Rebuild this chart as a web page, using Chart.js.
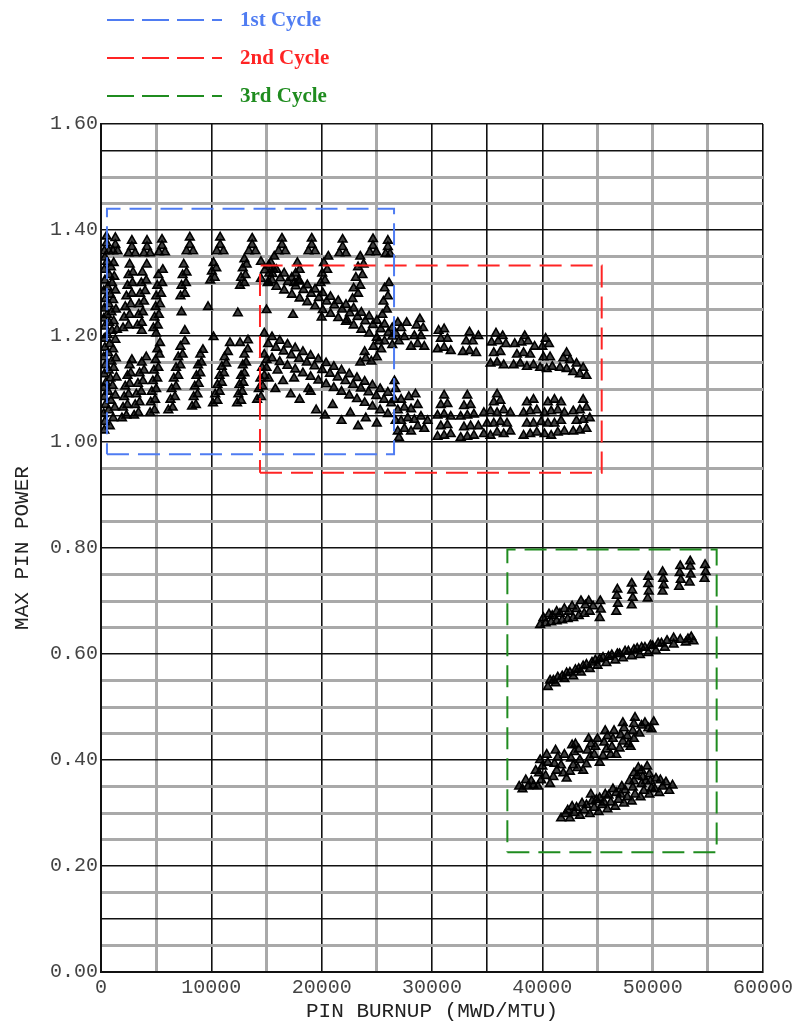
<!DOCTYPE html>
<html>
<head>
<meta charset="utf-8">
<script src="https://cdn.jsdelivr.net/npm/chart.js@4.4.1/dist/chart.umd.min.js"></script>
<style>
  html, body { margin: 0; padding: 0; background: #fff; }
  canvas { display: block; }
</style>
</head>
<body>
<canvas id="pinChart" width="804" height="1030"></canvas>
<script>
// legend / box names and colours
const cycleNames = ["1st Cycle", "2nd Cycle", "3rd Cycle"];
const cycleColors = ["#4f7cf2", "#ff2424", "#1f8c1f"];

// box extents: [burnup from, burnup to, power from, power to]
const cycle1Box = [540, 26560, 0.977, 1.44];
const cycle2Box = [14410, 45380, 0.942, 1.333];
const cycle3Box = [36830, 55800, 0.226, 0.797];

// axis ticks
const xLabelValues = [0, 10000, 20000, 30000, 40000, 50000, 60000];
const yLabelValues = [0, 0.2, 0.4, 0.6, 0.8, 1.0, 1.2, 1.4, 1.6];
const darkXLines = [0, 10000, 20000, 30000, 35000, 40000, 60000];
const darkYLines = [0, 0.1, 0.2, 0.4, 0.6, 0.8, 0.9, 1.0, 1.05, 1.2, 1.4, 1.55, 1.6];

// ---- points: [burnup, max pin power] ----
const c1Peaks = [
  [300,1.36],[700,1.36],[500,1.375],[500,1.388],
  [1100,1.36],[1500,1.36],[1300,1.372],[1300,1.385],
  [2500,1.356],[3100,1.356],[2800,1.368],[2800,1.38],
  [3900,1.356],[4450,1.356],[4170,1.368],[4170,1.38],
  [5250,1.358],[5800,1.358],[5530,1.37],[5530,1.382],
  [7750,1.36],[8350,1.36],[8050,1.372],[8050,1.386],
  [10500,1.36],[11100,1.36],[10800,1.372],[10800,1.386],
  [13400,1.36],[14000,1.36],[13700,1.372],[13700,1.384],
  [16100,1.36],[16700,1.36],[16400,1.372],[16400,1.384],
  [18800,1.36],[19400,1.36],[19100,1.372],[19100,1.384],
  [21600,1.356],[22200,1.356],[21900,1.368],[21900,1.382],
  [24350,1.358],[24950,1.358],[24650,1.37],[24650,1.383],
  [25800,1.355],[26200,1.355],[26000,1.368],[26000,1.38]
];

const c1Left = [
  [300,1.022],[800,1.03],[350,1.038],[1100,1.045],[250,1.053],[700,1.06],[1250,1.065],
  [400,1.07],[900,1.078],[300,1.085],[1300,1.088],[650,1.095],[250,1.102],[1050,1.106],
  [450,1.112],[850,1.12],[1400,1.122],[300,1.128],[700,1.135],[1150,1.14],[400,1.145],
  [950,1.152],[250,1.16],[1350,1.158],[650,1.168],[350,1.178],[1100,1.175],[800,1.185],
  [300,1.195],[1300,1.193],[600,1.202],[1000,1.21],[350,1.218],[1450,1.212],[750,1.225],
  [250,1.233],[1150,1.228],[550,1.24],[950,1.245],[300,1.252],[1350,1.25],[700,1.26],
  [400,1.27],[1100,1.268],[850,1.278],[250,1.285],[1300,1.286],[600,1.292],[1000,1.3],
  [350,1.305],[750,1.315],[1200,1.312],[300,1.325],[900,1.33],[550,1.34],[1150,1.338],[350,1.348]
];

const c1Upper = [
  [2000,1.215],[2500,1.22],[2100,1.235],[2600,1.24],[2200,1.255],[2700,1.26],[2300,1.275],
  [2800,1.28],[2400,1.295],[2850,1.3],[2500,1.315],[2900,1.32],[2600,1.335],
  [3300,1.22],[3700,1.225],[3400,1.24],[3800,1.245],[3450,1.26],[3900,1.265],[3550,1.28],
  [4000,1.285],[3650,1.3],[4100,1.305],[3750,1.32],[4150,1.335],
  [4750,1.215],[5150,1.22],[4850,1.235],[5250,1.24],[4950,1.255],[5350,1.26],[5000,1.275],
  [5450,1.28],[5100,1.295],[5550,1.3],[5200,1.315],[5600,1.325],
  [7200,1.275],[7600,1.28],[7300,1.295],[7700,1.3],[7400,1.315],[7750,1.32],[7500,1.335],
  [7300,1.245],[7600,1.21],
  [9900,1.305],[10300,1.31],[10050,1.322],[10450,1.328],[10200,1.338],[9700,1.255],[10200,1.198],
  [12600,1.295],[13000,1.3],[12700,1.31],[13100,1.315],[12850,1.328],[13200,1.335],[13000,1.345],
  [12400,1.243],[12600,1.187],
  [15100,1.3],[15500,1.305],[15250,1.318],[15650,1.325],[15400,1.338],[15700,1.35],[15000,1.249],
  [17500,1.3],[17900,1.305],[17650,1.318],[18000,1.325],[17800,1.338],[17400,1.24],
  [19900,1.3],[20300,1.305],[20050,1.318],[20500,1.325],[20200,1.338],[20600,1.35],[20000,1.235],
  [22800,1.27],[23300,1.28],[22900,1.29],[23500,1.295],[23100,1.31],[23700,1.315],[23300,1.33],
  [23800,1.335],[23500,1.35],[22300,1.23],
  [25500,1.24],[25900,1.25],[25600,1.265],[26000,1.275],[25700,1.29],[26100,1.3],
  [3700,1.21],[5000,1.205]
];

const c1Lower = [
  [1900,1.045],[2300,1.05],[2000,1.065],[2400,1.07],[2100,1.085],[2500,1.09],[2200,1.105],
  [2600,1.11],[2400,1.125],[2700,1.13],[2600,1.145],[2800,1.155],
  [3000,1.05],[3400,1.055],[3100,1.07],[3500,1.075],[3200,1.09],[3650,1.095],[3350,1.11],
  [3800,1.115],[3500,1.13],[3900,1.135],[3700,1.15],[4100,1.16],
  [4450,1.055],[4850,1.06],[4500,1.075],[4900,1.08],[4600,1.095],[5000,1.1],[4700,1.115],
  [5100,1.12],[4800,1.135],[5200,1.14],[4950,1.155],[5300,1.165],[5100,1.175],[5350,1.187],
  [6100,1.06],[6500,1.065],[6300,1.08],[6700,1.085],[6400,1.1],[6800,1.105],[6600,1.12],
  [7000,1.125],[6800,1.14],[7200,1.145],[7000,1.16],[7400,1.165],[7200,1.18],[7600,1.19],
  [8250,1.067],[8600,1.07],[8400,1.085],[8750,1.09],[8500,1.105],[8850,1.11],[8650,1.125],
  [9000,1.13],[8800,1.145],[9100,1.15],[9000,1.165],[9240,1.174],
  [10150,1.073],[10550,1.078],[10350,1.09],[10750,1.095],[10550,1.108],[10950,1.112],
  [10750,1.125],[11150,1.13],[10950,1.142],[11350,1.148],[11200,1.16],[11500,1.17],[11690,1.187],
  [12330,1.073],[12700,1.078],[12450,1.09],[12800,1.095],[12550,1.108],[12900,1.112],
  [12700,1.125],[13000,1.13],[12850,1.145],[13150,1.15],[13000,1.165],[13300,1.175],[13320,1.192],
  [14150,1.08],[14500,1.085],[14300,1.1],[14650,1.105],[14450,1.12],[14800,1.125],[14600,1.14],[15000,1.155]
];

const c2UpperBand = [
  [14500,1.34],[14850,1.324],[14500,1.308],
  [15200,1.333],[15550,1.317],[15200,1.301],
  [15900,1.325],[16250,1.309],[15900,1.293],
  [16600,1.318],[16950,1.302],[16600,1.286],
  [17300,1.31],[17650,1.294],[17300,1.278],
  [18000,1.303],[18350,1.287],[18000,1.271],
  [18700,1.296],[19050,1.28],[18700,1.264],
  [19400,1.288],[19750,1.272],[19400,1.256],
  [20100,1.281],[20450,1.265],[20100,1.249],
  [20800,1.274],[21150,1.258],[20800,1.242],
  [21500,1.266],[21850,1.25],[21500,1.234],
  [22200,1.259],[22550,1.243],[22200,1.227],
  [22900,1.252],[23250,1.236],[22900,1.22],
  [23600,1.244],[23950,1.228],[23600,1.212],
  [24300,1.237],[24650,1.221],[24300,1.205],
  [25000,1.229],[25350,1.213],[25000,1.197],
  [25700,1.222],[26050,1.206],[25700,1.19],
  [26400,1.215],[26400,1.199],[26400,1.183]
];

const c2UpperTail = [
  [26700,1.205],[27200,1.215],[27700,1.225],[27000,1.19],[27500,1.198],[26900,1.225],
  [28100,1.18],[28700,1.185],[29300,1.18],[28400,1.2],[29000,1.2],[28600,1.22],[29200,1.215],[28900,1.232],
  [30500,1.175],[31100,1.178],[31700,1.172],[30800,1.195],[31400,1.195],[31100,1.213],[30600,1.21],
  [32800,1.17],[33400,1.172],[34000,1.168],[33100,1.19],[33700,1.19],[33400,1.207],[34200,1.2],
  [35300,1.148],[35900,1.15],[36500,1.145],[35600,1.168],[36200,1.17],[35400,1.188],[36000,1.19],
  [36700,1.185],[35800,1.205],[36400,1.2],
  [37400,1.145],[38000,1.148],[38600,1.142],[39200,1.145],[37700,1.165],[38300,1.168],[38900,1.165],
  [37500,1.185],[38100,1.188],[38700,1.19],[39300,1.18],[38400,1.2],
  [39800,1.14],[40400,1.138],[40900,1.142],[40100,1.16],[40700,1.16],[40000,1.18],[40600,1.185],[40300,1.195],
  [41600,1.14],[42200,1.138],[42800,1.132],[43400,1.128],[44000,1.125],[41900,1.158],[42500,1.155],
  [43100,1.148],[43700,1.14],[42200,1.168]
];

const c2LowerBand = [
  [14800,1.205],[15150,1.185],[14800,1.165],
  [15500,1.198],[15850,1.178],[15500,1.158],
  [16200,1.191],[16550,1.171],[16200,1.151],
  [16900,1.184],[17250,1.164],[16900,1.144],
  [17600,1.177],[17950,1.157],[17600,1.137],
  [18300,1.17],[18650,1.15],[18300,1.13],
  [19000,1.163],[19350,1.143],[19000,1.123],
  [19700,1.156],[20050,1.136],[19700,1.116],
  [20400,1.149],[20750,1.129],[20400,1.109],
  [21100,1.142],[21450,1.122],[21100,1.102],
  [21800,1.135],[22150,1.115],[21800,1.095],
  [22500,1.128],[22850,1.108],[22500,1.088],
  [23200,1.121],[23550,1.101],[23200,1.081],
  [23900,1.114],[24250,1.094],[23900,1.074],
  [24600,1.107],[24950,1.087],[24600,1.067],
  [25300,1.1],[25650,1.08],[25300,1.06],
  [26000,1.093],[26300,1.073],[26000,1.053],
  [15200,1.12],[15800,1.1],[16500,1.115],[17200,1.09],[18000,1.08],[18800,1.1],[19500,1.06],
  [20300,1.05],[21000,1.07],[21800,1.04],[22600,1.055],[23300,1.03],[24000,1.045],[15000,1.14],
  [16000,1.135],[17500,1.12],[19000,1.095],[25000,1.035],
  [23500,1.15],[24000,1.158],[24500,1.152],[25000,1.16],[25400,1.175],[24700,1.18],[23900,1.17],[25200,1.19]
];

const c2Flat = [
  [26600,1.08],[26600,1.115],[26700,1.04],[26900,1.02],[27500,1.025],[28100,1.02],[28700,1.03],
  [29300,1.025],[27200,1.04],[27800,1.045],[28400,1.042],[29000,1.048],[29600,1.04],[26900,1.06],
  [27500,1.065],[28100,1.062],[28700,1.07],[27200,1.08],[27900,1.085],[28500,1.09],[26700,1.1],[27000,1.008],
  [30500,1.01],[31100,1.012],[31700,1.015],[30800,1.03],[31400,1.032],[30500,1.05],[31100,1.052],
  [31700,1.048],[30800,1.07],[31400,1.072],[31100,1.088],
  [32600,1.008],[33200,1.01],[33800,1.012],[32900,1.028],[33500,1.03],[34200,1.03],[32600,1.048],
  [33200,1.05],[33800,1.052],[32900,1.068],[33500,1.07],[33200,1.088],
  [34700,1.015],[35300,1.012],[35900,1.018],[36500,1.015],[37100,1.02],[35000,1.035],[35600,1.035],
  [36200,1.038],[36800,1.035],[34700,1.055],[35300,1.058],[35900,1.055],[36500,1.06],[37100,1.055],
  [35600,1.075],[36200,1.078],[35900,1.09],
  [38300,1.012],[38900,1.015],[39500,1.018],[38600,1.035],[39200,1.035],[39900,1.038],[38300,1.055],
  [38900,1.058],[39500,1.06],[38600,1.075],[39200,1.08],
  [40200,1.015],[40800,1.012],[41400,1.018],[42000,1.02],[40500,1.035],[41100,1.035],[41700,1.04],
  [40200,1.055],[40800,1.058],[41400,1.06],[42000,1.055],[40500,1.075],[41100,1.08],[41700,1.075],
  [42800,1.02],[43400,1.022],[44000,1.025],[43100,1.04],[43700,1.042],[44300,1.045],[42800,1.058],
  [43400,1.06],[44000,1.065],[43700,1.08]
];

const c3BandA = [
  [39800,0.655],[40300,0.658],[40800,0.66],[41300,0.662],[41800,0.664],[42300,0.666],[42800,0.668],
  [43300,0.672],[43800,0.676],[44300,0.68],
  [40100,0.668],[40900,0.672],[41600,0.676],[42400,0.68],[43100,0.685],[43900,0.692],[44200,0.7],
  [40600,0.675],[41300,0.68],[42000,0.685],[42700,0.69],[43500,0.7],[44600,0.69],
  [45200,0.668],[45300,0.684],[45250,0.7],
  [46700,0.68],[46850,0.695],[46750,0.71],[46800,0.722],
  [48100,0.692],[48200,0.706],[48150,0.72],[48100,0.733],
  [49550,0.705],[49650,0.718],[49600,0.732],[49600,0.746],
  [50900,0.718],[51000,0.73],[50950,0.742],[50900,0.755],
  [52400,0.727],[52550,0.74],[52450,0.753],[52500,0.766],
  [53350,0.735],[53450,0.75],[53400,0.765],[53400,0.775],
  [54700,0.742],[54800,0.755],[54750,0.768]
];

const c3BandB = [
  [40500,0.538],[40700,0.55],[41200,0.545],[41400,0.556],[42000,0.553],[42200,0.564],
  [42800,0.558],[43000,0.57],[43500,0.565],[43700,0.577],[44300,0.572],[44500,0.584],
  [45000,0.578],[45200,0.59],[45800,0.583],[46000,0.595],[46600,0.588],[46800,0.6],
  [47300,0.592],[47500,0.605],[48100,0.596],[48300,0.608],[48850,0.598],[49000,0.612],
  [49600,0.602],[49800,0.616],[50300,0.606],[50500,0.62],[51100,0.612],[51300,0.625],
  [51900,0.618],[51900,0.63],[53000,0.622],[53200,0.628],[53700,0.624],
  [41000,0.55],[41800,0.558],[42500,0.565],[43300,0.572],[44000,0.58],[44800,0.588],[45500,0.593],
  [46300,0.598],[47000,0.6],[47800,0.605],[48600,0.61],[49300,0.612],[50000,0.615],[50800,0.62],
  [52500,0.627],[53500,0.632]
];

const c3BandC = [
  [38200,0.345],[38700,0.35],[39200,0.352],
  [39600,0.35],[39900,0.362],[39700,0.375],[40000,0.388],[39800,0.4],
  [40700,0.355],[41000,0.368],[41300,0.38],[41100,0.393],[41400,0.405],[41200,0.418],
  [42200,0.365],[42500,0.378],[42800,0.39],[42600,0.403],[42900,0.415],[42700,0.428],
  [43700,0.38],[44000,0.392],[44300,0.405],[44100,0.418],[44400,0.43],[44200,0.44],
  [45200,0.395],[45500,0.408],[45800,0.42],[45600,0.433],[45900,0.445],[45700,0.455],
  [46700,0.41],[47000,0.422],[47300,0.435],[47100,0.447],[47400,0.46],[47300,0.47],
  [48000,0.425],[48300,0.44],[48200,0.455],[48300,0.468],[48400,0.48],
  [49900,0.458],[50100,0.472],[49600,0.46],
  [39000,0.36],[39400,0.38],[40300,0.37],[40500,0.395],[40400,0.41],[41700,0.39],[41900,0.375],
  [42000,0.41],[43200,0.385],[43400,0.4],[43300,0.42],[43000,0.43],[44700,0.41],[44800,0.425],
  [45000,0.44],[46200,0.41],[46300,0.425],[46400,0.44],[46500,0.455],[47700,0.445],[47800,0.43],
  [48800,0.45],[49000,0.465],[49300,0.47],[38500,0.362],[37900,0.35]
];

const c3BandD = [
  [41700,0.29],[42100,0.298],[42500,0.29],[42900,0.3],[42700,0.312],
  [43400,0.295],[43800,0.305],[43600,0.318],[44300,0.298],[44700,0.31],[44500,0.322],[44400,0.335],
  [45100,0.302],[45400,0.315],[45200,0.328],[45900,0.307],[46200,0.32],[46000,0.333],
  [46600,0.312],[46900,0.325],[46700,0.338],[47400,0.318],[47700,0.33],[47500,0.343],
  [48100,0.322],[48400,0.335],[48200,0.348],[48300,0.36],[48300,0.375],
  [48900,0.33],[49200,0.342],[49000,0.355],[49100,0.368],[49000,0.38],
  [49700,0.335],[49900,0.347],[49800,0.36],[49700,0.373],
  [50600,0.338],[50900,0.35],[50700,0.362],[51500,0.342],[51800,0.352],
  [42300,0.305],[43100,0.31],[44000,0.315],[44900,0.325],[45700,0.335],[46400,0.345],[47200,0.35],
  [47900,0.36],[48600,0.37],[49400,0.36],[50300,0.365],[50200,0.345],[51200,0.358],[49500,0.388],
  [48700,0.385],[45600,0.32],[47100,0.335]
];

const toXY = arr => arr.map(p => ({ x: p[0], y: p[1] }));
const boxPath = b => [
  { x: b[0], y: b[2] }, { x: b[1], y: b[2] }, { x: b[1], y: b[3] },
  { x: b[0], y: b[3] }, { x: b[0], y: b[2] }
];
const near = (v, list, eps) => list.some(t => Math.abs(t - v) < eps);

function boxSet(box, color) {
  return {
    data: boxPath(box), showLine: true, borderColor: color, borderWidth: 2,
    borderDash: [22, 9], pointRadius: 0, fill: false, order: 0
  };
}
function pointSet(arr) {
  return {
    data: toXY(arr), pointStyle: "triangle", pointRadius: 5, borderWidth: 1.6,
    borderColor: "#000", backgroundColor: "rgba(0,0,0,0.75)", order: 1
  };
}

const cycleLegend = {
  id: "cycleLegend",
  afterDraw(chart) {
    const ctx = chart.ctx;
    ctx.save();
    cycleNames.forEach((name, i) => {
      const y = 20 + i * 38;
      ctx.strokeStyle = cycleColors[i];
      ctx.lineWidth = 2;
      ctx.setLineDash([27, 8]);
      ctx.beginPath();
      ctx.moveTo(107, y);
      ctx.lineTo(222, y);
      ctx.stroke();
      ctx.setLineDash([]);
      ctx.fillStyle = cycleColors[i];
      ctx.font = 'bold 21px "Liberation Serif"';
      ctx.textBaseline = "middle";
      ctx.fillText(name, 240, y + 1);
    });
    ctx.restore();
  }
};

const monoFont = '"Liberation Mono", "DejaVu Sans Mono", monospace';

new Chart(document.getElementById("pinChart"), {
  type: "scatter",
  data: {
    datasets: [
      boxSet(cycle1Box, cycleColors[0]),
      boxSet(cycle2Box, cycleColors[1]),
      boxSet(cycle3Box, cycleColors[2]),
      pointSet(c1Peaks), pointSet(c1Left), pointSet(c1Upper), pointSet(c1Lower),
      pointSet(c2UpperBand), pointSet(c2UpperTail), pointSet(c2LowerBand), pointSet(c2Flat),
      pointSet(c3BandA), pointSet(c3BandB), pointSet(c3BandC), pointSet(c3BandD)
    ]
  },
  options: {
    responsive: false,
    animation: false,
    devicePixelRatio: 1,
    layout: { padding: { top: 124, right: 41, left: 0, bottom: 0 } },
    plugins: { legend: { display: false }, tooltip: { enabled: false } },
    scales: {
      x: {
        type: "linear", min: 0, max: 60000,
        afterFit: s => { s.height = 58; },
        ticks: {
          stepSize: 5000, autoSkip: false, maxRotation: 0, padding: 4,
          color: "#444", font: { family: monoFont, size: 20 },
          callback: v => near(v, xLabelValues, 1) ? String(v) : ""
        },
        grid: {
          drawTicks: false,
          color: c => near(c.tick.value, darkXLines, 1) ? "#111" : "#a9a9a9",
          lineWidth: c => near(c.tick.value, darkXLines, 1) ? 1.6 : 3
        },
        border: { color: "#111", width: 2 },
        title: {
          display: true, text: "PIN BURNUP (MWD/MTU)", color: "#222",
          font: { family: monoFont, size: 21 }, padding: { top: 0, bottom: 6 }
        }
      },
      y: {
        type: "linear", min: 0, max: 1.6,
        afterFit: s => { s.width = 101; },
        ticks: {
          stepSize: 0.05, autoSkip: false, padding: 3,
          color: "#444", font: { family: monoFont, size: 20 },
          callback: v => near(v, yLabelValues, 0.001) ? v.toFixed(2) : ""
        },
        grid: {
          drawTicks: false,
          color: c => near(c.tick.value, darkYLines, 0.001) ? "#111" : "#a9a9a9",
          lineWidth: c => near(c.tick.value, darkYLines, 0.001) ? 1.6 : 3
        },
        border: { color: "#111", width: 2 },
        title: {
          display: true, text: "MAX PIN POWER", color: "#222",
          font: { family: monoFont, size: 21 }, padding: { top: 10, bottom: 0 }
        }
      }
    }
  },
  plugins: [cycleLegend]
});
</script>
</body>
</html>
